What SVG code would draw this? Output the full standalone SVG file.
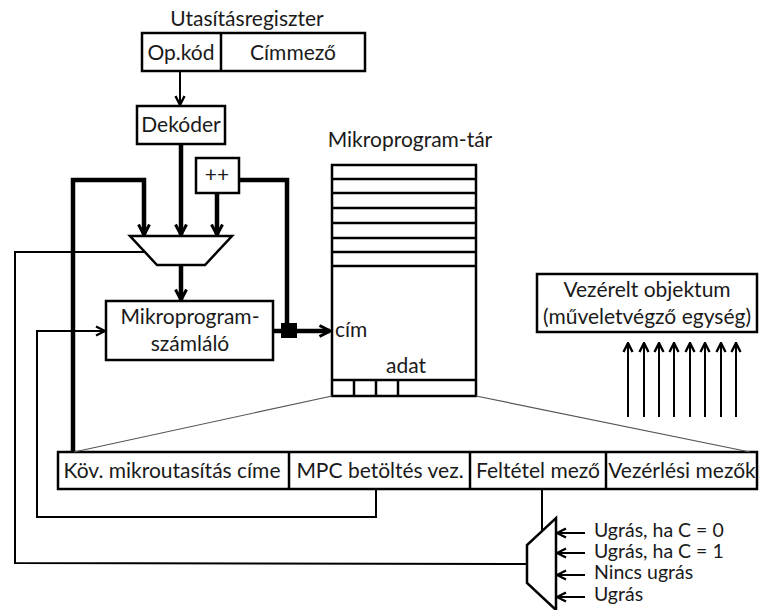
<svg xmlns="http://www.w3.org/2000/svg" width="760" height="610" viewBox="0 0 760 610">
  <style>
    text { font-family: Lato, "Open Sans", "Liberation Sans", sans-serif; font-size: 21px; fill: #1a1a1a; }
    .mid { text-anchor: middle; }
    .cond { font-size: 19.5px; }
    .box { fill: #ffffff; stroke: #000000; stroke-width: 2.5; }
    .thin { fill: none; stroke: #000000; stroke-width: 2; }
    .thick { fill: none; stroke: #000000; stroke-width: 4.5; }
    .grey { fill: none; stroke: #555555; stroke-width: 1.2; }
  </style>
  <defs>
    <marker id="ah-thick" viewBox="0 0 14 14" refX="12" refY="7" markerWidth="14" markerHeight="14" markerUnits="userSpaceOnUse" orient="auto">
      <path d="M1.5,1.5 L12,7 L1.5,12.5" fill="none" stroke="#000" stroke-width="3"/>
    </marker>
    <marker id="ah-thin" viewBox="0 0 12 12" refX="10.5" refY="6" markerWidth="12" markerHeight="12" markerUnits="userSpaceOnUse" orient="auto">
      <path d="M1.5,1.5 L10.5,6 L1.5,10.5" fill="none" stroke="#000" stroke-width="2.4"/>
    </marker>
  </defs>

  <!-- instruction register -->
  <g id="utasitasregiszter">
    <text class="mid" x="247" y="26">Utasításregiszter</text>
    <rect class="box" x="142" y="33" width="223" height="38"/>
    <line x1="221" y1="33" x2="221" y2="71" stroke="#000" stroke-width="2.5"/>
    <text class="mid" x="181" y="60">Op.kód</text>
    <text class="mid" x="293" y="60">Címmező</text>
  </g>

  <!-- decoder -->
  <g id="dekoder">
    <rect class="box" x="137" y="106" width="88" height="38"/>
    <text class="mid" x="181" y="132">Dekóder</text>
  </g>

  <!-- incrementer -->
  <g id="inc">
    <rect class="box" x="196" y="158" width="43" height="35"/>
    <text class="mid" x="217" y="182">++</text>
  </g>

  <!-- address multiplexer -->
  <g id="cim-mux">
    <polygon points="130,236 232,236 205,265 157,265" fill="#fff" stroke="#000" stroke-width="2.5"/>
  </g>

  <!-- micro program counter -->
  <g id="mpc">
    <rect class="box" x="106" y="301" width="167" height="59"/>
    <text class="mid" x="190" y="324">Mikroprogram-</text>
    <text class="mid" x="190" y="351">számláló</text>
  </g>

  <!-- control store -->
  <g id="mikroprogram-tar">
    <text class="mid" x="410" y="147">Mikroprogram-tár</text>
    <rect class="box" x="332" y="165" width="144" height="231"/>
    <g stroke="#000" stroke-width="2.5">
      <line x1="332" y1="179" x2="476" y2="179"/>
      <line x1="332" y1="193" x2="476" y2="193"/>
      <line x1="332" y1="208" x2="476" y2="208"/>
      <line x1="332" y1="223" x2="476" y2="223"/>
      <line x1="332" y1="238" x2="476" y2="238"/>
      <line x1="332" y1="252" x2="476" y2="252"/>
      <line x1="332" y1="266" x2="476" y2="266"/>
      <line x1="332" y1="380" x2="476" y2="380"/>
      <line x1="354" y1="380" x2="354" y2="396"/>
      <line x1="376" y1="380" x2="376" y2="396"/>
      <line x1="398" y1="380" x2="398" y2="396"/>
    </g>
    <text x="335" y="337">cím</text>
    <text class="mid" x="406" y="373">adat</text>
  </g>

  <!-- controlled unit -->
  <g id="vezerelt-objektum">
    <rect class="box" x="537" y="274" width="220" height="58"/>
    <text class="mid" x="647" y="297">Vezérelt objektum</text>
    <text class="mid" x="647" y="324">(műveletvégző egység)</text>
  </g>

  <!-- micro instruction fields -->
  <g id="mikroutasitas">
    <rect class="box" x="58" y="452" width="699" height="37"/>
    <g stroke="#000" stroke-width="2.5">
      <line x1="289" y1="452" x2="289" y2="489"/>
      <line x1="470" y1="452" x2="470" y2="489"/>
      <line x1="606" y1="452" x2="606" y2="489"/>
    </g>
    <text class="mid" x="172" y="478">Köv. mikroutasítás címe</text>
    <text class="mid" x="380" y="478">MPC betöltés vez.</text>
    <text class="mid" x="538" y="478">Feltétel mező</text>
    <text class="mid" x="682" y="478">Vezérlési mezők</text>
  </g>

  <!-- condition multiplexer -->
  <g id="feltetel-mux">
    <polygon points="556,518 556,610 527,583 527,545" fill="#fff" stroke="#000" stroke-width="2.5"/>
    <text class="cond" x="594" y="537">Ugrás, ha C = 0</text>
    <text class="cond" x="594" y="558">Ugrás, ha C = 1</text>
    <text class="cond" x="594" y="579">Nincs ugrás</text>
    <text class="cond" x="594" y="601">Ugrás</text>
  </g>

  <!-- connectors -->
  <g id="connectors">
    <line class="thin" x1="180" y1="71" x2="180" y2="105" marker-end="url(#ah-thin)"/>
    <line class="thick" x1="181" y1="144" x2="181" y2="235" marker-end="url(#ah-thick)"/>
    <line class="thick" x1="217" y1="193" x2="217" y2="235" marker-end="url(#ah-thick)"/>
    <polyline class="thick" points="73,452 73,180 144,180 144,235" marker-end="url(#ah-thick)"/>
    <polyline class="thick" points="239,180 287,180 287,330"/>
    <line class="thick" x1="181" y1="265" x2="181" y2="300" marker-end="url(#ah-thick)"/>
    <line class="thick" x1="273" y1="331" x2="330" y2="331" marker-end="url(#ah-thick)"/>
    <rect x="281" y="323" width="16" height="15" fill="#000"/>
    <polyline class="thin" points="145,252 15,252 15,563 527,564"/>
    <polyline class="thin" points="376,489 376,517 37,517 37,331 105,331" marker-end="url(#ah-thin)"/>
    <line class="thin" x1="542" y1="489" x2="542" y2="531"/>
    <line class="thin" x1="585" y1="533" x2="557" y2="533" marker-end="url(#ah-thin)"/>
    <line class="thin" x1="585" y1="553" x2="557" y2="553" marker-end="url(#ah-thin)"/>
    <line class="thin" x1="585" y1="575" x2="557" y2="575" marker-end="url(#ah-thin)"/>
    <line class="thin" x1="585" y1="597" x2="557" y2="597" marker-end="url(#ah-thin)"/>
    <line class="grey" x1="332" y1="396" x2="74" y2="452"/>
    <line class="grey" x1="476" y1="396" x2="750" y2="452"/>
    <g class="thin">
      <line class="thin" x1="628" y1="417" x2="628" y2="343" marker-end="url(#ah-thin)"/>
      <line class="thin" x1="644" y1="417" x2="644" y2="343" marker-end="url(#ah-thin)"/>
      <line class="thin" x1="659" y1="417" x2="659" y2="343" marker-end="url(#ah-thin)"/>
      <line class="thin" x1="674" y1="417" x2="674" y2="343" marker-end="url(#ah-thin)"/>
      <line class="thin" x1="690" y1="417" x2="690" y2="343" marker-end="url(#ah-thin)"/>
      <line class="thin" x1="705" y1="417" x2="705" y2="343" marker-end="url(#ah-thin)"/>
      <line class="thin" x1="721" y1="417" x2="721" y2="343" marker-end="url(#ah-thin)"/>
      <line class="thin" x1="736" y1="417" x2="736" y2="343" marker-end="url(#ah-thin)"/>
    </g>
  </g>
</svg>
